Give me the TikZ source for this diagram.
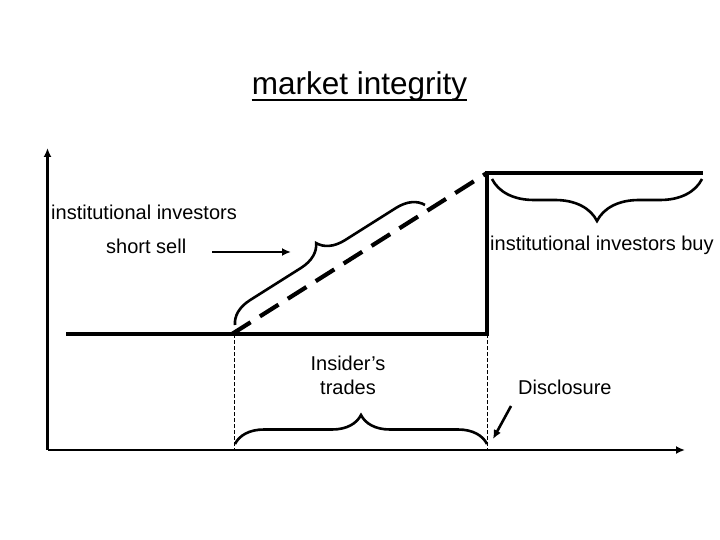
\documentclass[tikz,border=0pt]{standalone}
\usepackage{fontspec}
\setmainfont{Liberation Sans}
\usetikzlibrary{arrows.meta,decorations.pathreplacing}
\begin{document}
\begin{tikzpicture}[x=1pt,y=-1pt,
  axis/.style={line width=2.6pt,-{Latex[length=9pt,width=8pt]}},
  thick line/.style={line width=4.2pt},
  dash line/.style={line width=4.2pt,dash pattern=on 22pt off 11pt},
  guide/.style={line width=0.8pt,dash pattern=on 4pt off 2pt},
  bracestyle/.style={line width=2.6pt,decorate},
  lbl/.style={font=\fontsize{20}{24}\selectfont,inner sep=0pt},
  ptr/.style={line width=2.6pt,-{Latex[length=9pt,width=8pt]}}]
\useasboundingbox (0,0) rectangle (720,540);
% axes
\coordinate (O) at (47.5,450);
\coordinate (ytop) at (47.5,148);
\coordinate (xend) at (685,450);
\draw[axis] (O) -- (ytop);
\draw[axis] (O) -- (xend);
% title
\node[font=\fontsize{31.5}{36}\selectfont,inner sep=0pt,anchor=base] (title) at (359.5,95) {market integrity};
\draw[line width=2.5pt] (title.west |- 0,100) -- (title.east |- 0,100);
% profile
\coordinate (a) at (66,334);
\coordinate (b) at (232,334);
\coordinate (c) at (487,334);
\coordinate (d) at (487,173);
\coordinate (e) at (703,173);
\draw[thick line] (a) -- (c) -- (d) -- (e);
\draw[dash line] (b) -- (d);
% guides
\coordinate (g1) at (234,450);
\coordinate (g2) at (487,450);
\draw[guide] (234,334) -- (g1);
\draw[guide] (c) -- (g2);
% braces
\draw[bracestyle,decoration={brace,amplitude=26pt}] (235,325) -- (425,205);
\draw[bracestyle,decoration={brace,mirror,amplitude=42pt}] (492,179) -- (702,179);
\draw[bracestyle,decoration={brace,amplitude=29pt}] (235,444) -- (487,444);
% labels
\node[lbl,anchor=west] (ii) at (51,212) {institutional investors};
\node[lbl,anchor=west] (ss) at (106,246) {short sell};
\node[lbl,anchor=west] (iib) at (490,245) {institutional investors buy};
\node[lbl,align=center,font=\fontsize{20}{24}\selectfont] (ins) at (348,375) {Insider’s\\trades};
\node[lbl,anchor=west] (dis) at (518,387) {Disclosure};
% arrows
\coordinate (ssarr) at (291,252);
\draw[ptr] (212,252) -- (ssarr);
\coordinate (disarr) at (493,439);
\draw[ptr] (511,406) -- (disarr);
\end{tikzpicture}
\end{document}
